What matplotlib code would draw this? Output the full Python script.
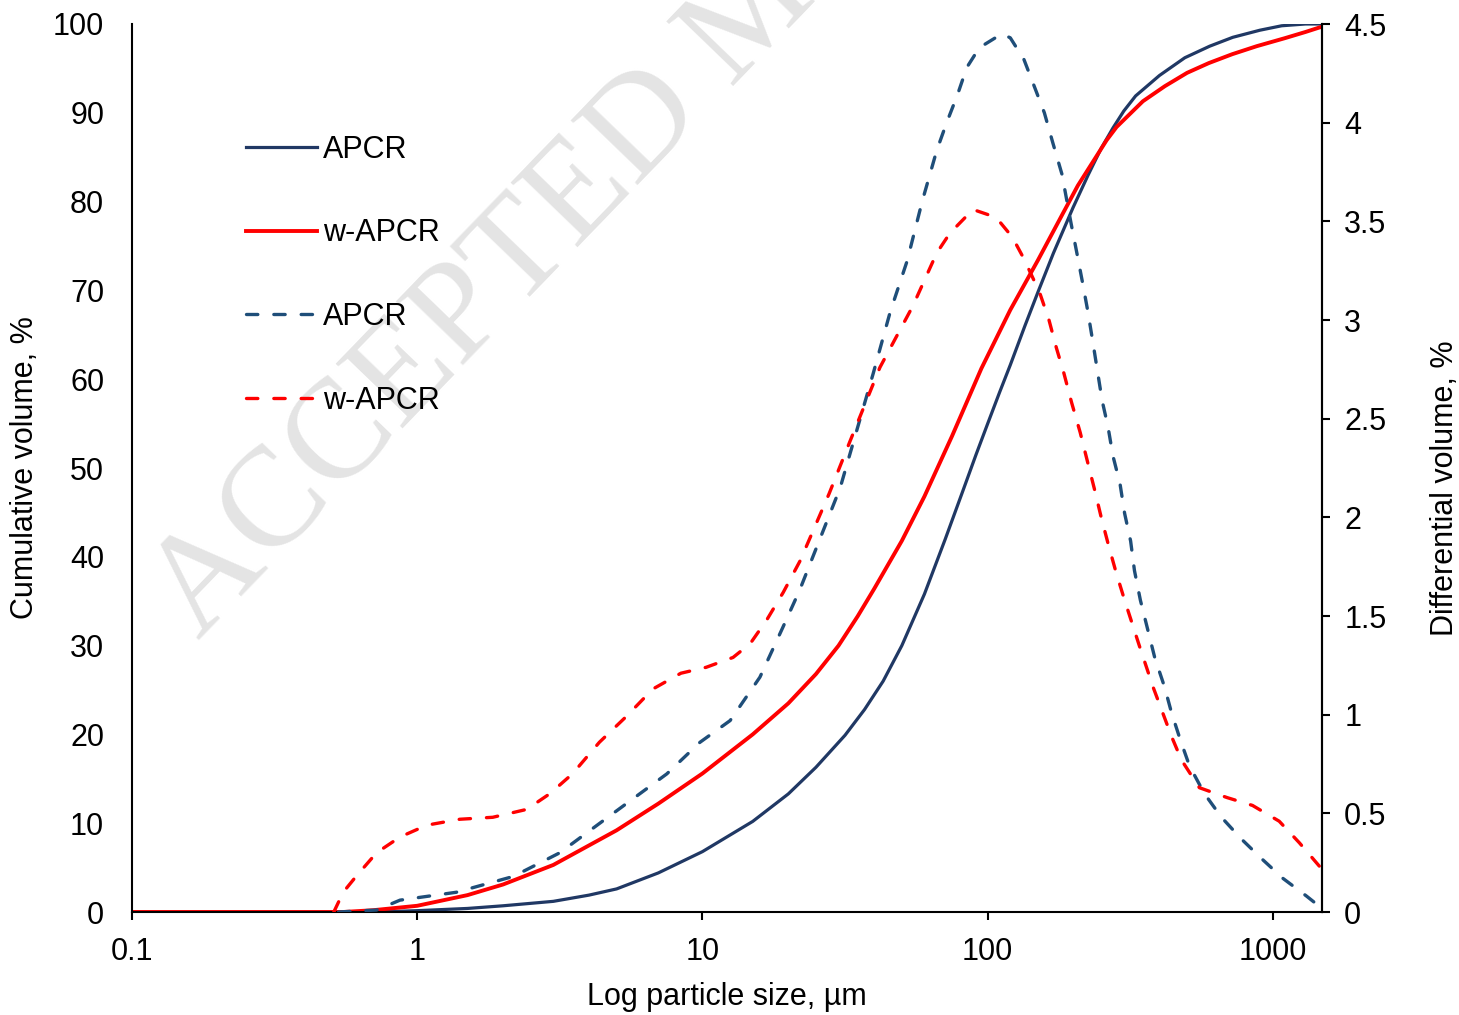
import matplotlib
matplotlib.use("Agg")
import matplotlib.pyplot as plt
from matplotlib.ticker import FixedLocator, NullLocator

plt.rcParams['font.family'] = ['Liberation Sans', 'DejaVu Sans']

# cumulative volume, % (left axis)
cum_apcr_x = [0.1, 0.3, 0.6, 0.8, 1, 1.5, 2, 3, 4, 5, 7, 10, 15, 20, 25, 31.6, 37, 43, 50, 60, 71, 82, 91,
              100, 110, 120, 135, 150, 170, 199, 225, 250, 275, 300, 330, 400, 491, 600, 723, 900, 1073, 1300, 1486]
cum_apcr_y = [0, 0, 0, 0.05, 0.15, 0.4, 0.7, 1.2, 1.9, 2.6, 4.4, 6.8, 10.2, 13.3, 16.3, 19.9, 22.8, 26.0, 30.0, 35.8, 42.0, 47.5, 51.5,
              55.0, 58.5, 61.6, 66.0, 69.8, 74.2, 79.3, 83.0, 86.0, 88.3, 90.2, 91.9, 94.2, 96.2, 97.5, 98.5, 99.3, 99.8, 100, 100]

cum_wapcr_x = [0.1, 0.3, 0.55, 0.7, 1, 1.5, 2, 3, 5, 7, 10, 15, 20, 25, 30, 35, 40, 50, 60, 75, 95, 120,
               150, 183, 207, 261, 283, 350, 418, 500, 596, 720, 877, 1100, 1300, 1486]
cum_wapcr_y = [0, 0, 0, 0.2, 0.7, 1.9, 3.1, 5.3, 9.2, 12.2, 15.6, 20.0, 23.5, 26.8, 30.0, 33.3, 36.4, 41.8, 46.8, 53.6, 61.2, 67.8,
               73.4, 78.6, 81.8, 86.9, 88.4, 91.3, 93.0, 94.5, 95.6, 96.6, 97.5, 98.4, 99.1, 99.7]

# differential volume, % (right axis)
diff_apcr_x = [0.53, 0.72, 0.87, 1.37, 2.17, 3.16, 4.76, 7.5, 9.8, 12.5, 15.9, 19.1, 21.9, 30.4, 39.7, 45.5,
               52.2, 58.9, 66.3, 71.8, 78.3, 84.5, 93.5, 112, 120, 134, 146, 158, 169, 182, 196, 206,
               215, 224, 233, 242, 252, 264, 275, 291, 302, 317, 327, 343, 385, 417, 441, 474, 510,
               575, 660, 775, 913, 1085, 1313, 1480]
diff_apcr_y = [0, 0.01, 0.06, 0.10, 0.18, 0.30, 0.49, 0.70, 0.86, 0.97, 1.19, 1.44, 1.63, 2.15, 2.73, 3.04,
               3.30, 3.60, 3.86, 4.00, 4.14, 4.28, 4.38, 4.45, 4.43, 4.32, 4.18, 4.05, 3.90, 3.74, 3.49, 3.33,
               3.19, 3.05, 2.90, 2.75, 2.59, 2.46, 2.31, 2.17, 2.02, 1.88, 1.73, 1.58, 1.29, 1.14, 1.01, 0.87, 0.74,
               0.60, 0.48, 0.37, 0.27, 0.17, 0.08, 0.02]

diff_wapcr_x = [0.51, 0.55, 0.61, 0.72, 0.87, 1.08, 1.41, 1.84, 2.42, 2.92, 3.5, 4.35, 5.4, 6.7, 8.4, 10.3,
                12.8, 14.7, 16.8, 19.2, 22, 27.8, 33, 41.9, 54.6, 66.3, 73.7, 88.8, 107, 122, 134, 152,
                164, 174, 185, 197, 211, 224, 237, 250, 265, 282, 302, 340, 380, 441, 478, 552, 690,
                848, 1052, 1239, 1459]
diff_wapcr_y = [0.0, 0.1, 0.18, 0.30, 0.38, 0.44, 0.47, 0.48, 0.52, 0.60, 0.70, 0.86, 0.99, 1.13, 1.21, 1.24,
                1.29, 1.36, 1.48, 1.62, 1.78, 2.12, 2.39, 2.76, 3.07, 3.34, 3.44, 3.56, 3.52, 3.42, 3.31, 3.14,
                3.00, 2.86, 2.73, 2.58, 2.43, 2.28, 2.14, 2.00, 1.86, 1.72, 1.58, 1.35, 1.14, 0.89, 0.77, 0.63, 0.58,
                0.54, 0.46, 0.35, 0.23]

x_ticks = [0.1, 1, 10, 100, 1000]
x_tick_labels = ['0.1', '1', '10', '100', '1000']
left_ticks = [0, 10, 20, 30, 40, 50, 60, 70, 80, 90, 100]
right_ticks = [0, 0.5, 1, 1.5, 2, 2.5, 3, 3.5, 4, 4.5]
right_tick_labels = ['0', '0.5', '1', '1.5', '2', '2.5', '3', '3.5', '4', '4.5']

navy = '#203864'
steel = '#1F4E79'
red = '#FF0000'
fs = 22

fig = plt.figure(figsize=(14.59, 10.15), dpi=100)
ax = fig.add_axes([132/1459, 103/1015, 1190/1459, 888/1015])
ax2 = ax.twinx()

# watermark
fig.text(198/1459, 1 - 640/1015, 'ACCEPTED MANUSCRIPT', fontsize=102, family='Liberation Serif',
         color='#e4e4e4', rotation=46, rotation_mode='anchor', ha='left', va='baseline', zorder=0)
ax.set_zorder(2)
ax2.set_zorder(3)
ax.patch.set_visible(False)

l1, = ax.plot(cum_apcr_x, cum_apcr_y, color=navy, lw=2.3, label='APCR')
l2, = ax.plot(cum_wapcr_x, cum_wapcr_y, color=red, lw=2.8, label='w-APCR')
l3, = ax2.plot(diff_apcr_x, diff_apcr_y, color=steel, lw=2.4, dashes=(3.4, 4.8),
               dash_capstyle='round', label='APCR')
l4, = ax2.plot(diff_wapcr_x, diff_wapcr_y, color=red, lw=2.4, dashes=(3.4, 4.8),
               dash_capstyle='round', label='w-APCR')

ax.set_xscale('log')
ax.set_xlim(0.1, 1486)
ax.set_ylim(0, 100)
ax2.set_ylim(0, 4.5)
ax.xaxis.set_major_locator(FixedLocator(x_ticks))
ax.set_xticklabels(x_tick_labels)
ax.xaxis.set_minor_locator(NullLocator())
ax.set_yticks(left_ticks)
ax2.set_yticks(right_ticks)
ax2.set_yticklabels(right_tick_labels)

for a in (ax, ax2):
    a.spines['top'].set_visible(False)
    for s in a.spines.values():
        s.set_linewidth(1.5)
ax2.spines['left'].set_visible(False)
ax2.spines['bottom'].set_visible(False)

ax.tick_params(axis='x', direction='out', length=6, width=1.5, pad=12, labelsize=fs)
ax.tick_params(axis='y', length=0, pad=20, labelsize=fs)
ax2.tick_params(axis='y', direction='out', length=6, width=1.5, pad=10, labelsize=fs)

ax.set_xlabel('Log particle size, µm', fontsize=fs)
ax.xaxis.set_label_coords(0.5, -0.079)
ax.set_ylabel('Cumulative volume, %', fontsize=fs)
ax.yaxis.set_label_coords(-0.077, 0.5)
ax2.set_ylabel('Differential volume, %', fontsize=fs)
ax2.yaxis.set_label_coords(1.091, 0.4775)

ax2.legend(handles=[l1, l2, l3, l4], loc='upper left', bbox_to_anchor=(0.096, 0.8755),
           frameon=False, fontsize=fs, handlelength=2.3, handletextpad=0.2,
           labelspacing=1.76, borderpad=0, borderaxespad=0)

fig.savefig('out.png', dpi=100)
